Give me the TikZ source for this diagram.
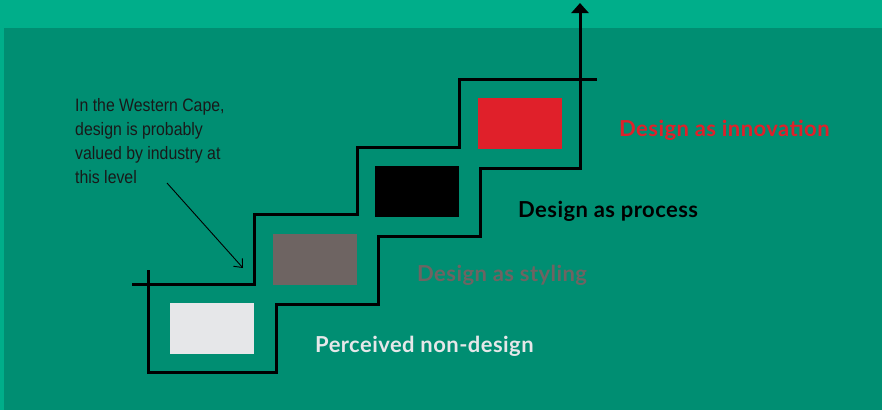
\documentclass[tikz,border=0pt]{standalone}
\usepackage{fontspec}
\setmainfont{Lato}[LetterSpace=2]
\newfontfamily\notefont[FakeStretch=0.88]{Liberation Sans}
\usetikzlibrary{arrows.meta}

\definecolor{lightteal}{RGB}{0,174,138}
\definecolor{darkteal}{RGB}{0,142,114}
\definecolor{paleboxgray}{RGB}{230,231,233}
\definecolor{stylegray}{RGB}{110,100,98}
\definecolor{innored}{RGB}{224,32,42}

\begin{document}
\begin{tikzpicture}[x=1pt, y=-1pt,
	stair/.style={line width=3pt, black},
	lvlbox/.style={minimum width=84pt, minimum height=51pt, inner sep=0pt, anchor=north west},
	lvllabel/.style={anchor=base west, inner sep=0pt, font=\fontsize{22}{24}\selectfont\bfseries}]
	% background
	\fill[lightteal] (0,0) rectangle (882,410);
	\fill[darkteal] (4,28) rectangle (882,410);
	\useasboundingbox (0,0) rectangle (882,410);

	% the two edges of the staircase, the lower one running up into the arrow
	\draw[stair] (132,284) -- (254,284) -- (254,214) -- (357,214) -- (357,147)
		-- (459,147) -- (459,79) -- (597,79);
	\draw[stair, -{Triangle[width=17pt, length=10pt]}] (148,270) -- (148,372)
		-- (276,372) -- (276,304) -- (378,304) -- (378,236) -- (480,236)
		-- (480,168) -- (580,168) -- (580,3);

	% one block per step
	\node[lvlbox, fill=paleboxgray] (nondesign) at (170,303) {};
	\node[lvlbox, fill=stylegray] (styling) at (273,234) {};
	\node[lvlbox, fill=black] (process) at (375,166) {};
	\node[lvlbox, fill=innored] (innovation) at (478,98) {};

	\node[lvllabel, paleboxgray] (nondesignlbl) at (315,352) {Perceived non-design};
	\node[lvllabel, stylegray] (stylinglbl) at (417,281) {Design as styling};
	\node[lvllabel, black] (processlbl) at (518,217) {Design as process};
	\node[lvllabel, innored] (innovationlbl) at (619,136) {Design as innovation};

	% note on where industry stands
	\node[anchor=north west, inner sep=0pt, align=left,
		font=\notefont\fontsize{18}{24}\selectfont, black!90] (note) at (75,98)
		{In the Western Cape,\\design is probably\\valued by industry at\\this level};
	\coordinate (notestart) at (167,183);
	\coordinate (notetip) at (243,268);
	\draw[line width=0.9pt, -{Straight Barb[length=7pt, width=12pt]}] (notestart) -- (notetip);
\end{tikzpicture}
\end{document}
